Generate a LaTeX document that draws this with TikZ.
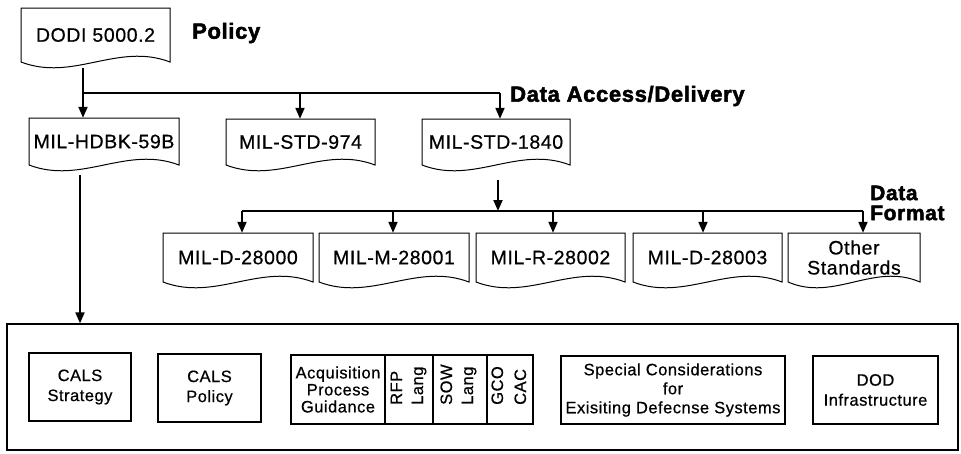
\documentclass[tikz,border=0pt]{standalone}
\usepackage{fontspec}
\setmainfont{Liberation Sans}[LetterSpace=3, FakeBold=0.6, BoldFeatures={FakeBold=2.2}]
\usetikzlibrary{arrows.meta,calc}
\newcommand\docnode[6]{%
  \node[doctext, minimum width={#4-#2}, minimum height={#5-#3}] (#1) at ({(#2+#4)/2},{(#3+#5)/2}) {#6};
  \draw[docline] (#2,#5) .. controls ({#2+0.35*(#4-#2)},{#5+20}) and ({#2+0.65*(#4-#2)},{#5-20}) .. (#4,#5) -- (#4,#3) -- (#2,#3) -- cycle;
}
\begin{document}
\begin{tikzpicture}[x=1pt,y=-1pt,
  docline/.style={line width=1pt},
  doctext/.style={inner sep=0pt, align=center, font=\fontsize{19.5}{20}\selectfont},
  conn/.style={line width=1.9pt},
  arr/.style={-{Triangle[length=11pt,width=9pt]}},
  ibox/.style={draw, line width=1.6pt, inner sep=0pt, align=center, font=\fontsize{16.5}{20}\selectfont},
  lab/.style={font=\fontsize{22}{20}\selectfont\bfseries, anchor=west, inner sep=0pt, align=left},
  rot/.style={rotate=90, anchor=base west, inner sep=0pt, font=\fontsize{16.5}{16}\selectfont}]
\useasboundingbox (0,0) rectangle (961,453);

% document shapes
\docnode{dodi}{21}{8}{170}{62}{DODI 5000.2}
\docnode{hdbk}{29}{118}{179}{165}{MIL-HDBK-59B}
\docnode{std974}{226}{119}{375}{165}{MIL-STD-974}
\docnode{std1840}{422}{119}{570}{165}{MIL-STD-1840}
\docnode{d28000}{163}{233}{313}{282}{MIL-D-28000}
\docnode{m28001}{319}{233}{469}{282}{MIL-M-28001}
\docnode{r28002}{476}{233}{625}{282}{MIL-R-28002}
\docnode{d28003}{633}{233}{782}{282}{MIL-D-28003}
\docnode{other}{788}{233}{920}{282}{Other\\Standards}

% labels
\node[lab] (policy) at (192,33) {Policy};
\node[lab] (access) at (510,96) {Data Access/Delivery};
\node[lab, font=\fontsize{21}{20}\selectfont\bfseries] (format) at (870,203) {Data\\Format};

% big box
\node[draw, line width=1.3pt, minimum width=951, minimum height=126, inner sep=0pt] (bigbox) at (482.5,387) {};

% inner boxes
\node[ibox, minimum width=102, minimum height=68] (strategy) at (80,387) {CALS\\Strategy};
\node[ibox, minimum width=103, minimum height=68] (calspolicy) at (209.5,388) {CALS\\Policy};
\node[ibox, minimum width=94, minimum height=69, font=\fontsize{16.5}{17}\selectfont] (acq) at (338,389.5) {Acquisition\\Process\\Guidance};
\node[ibox, minimum width=48, minimum height=69] (rfpcell) at (409,389.5) {};
\node[ibox, minimum width=54, minimum height=69] (sowcell) at (460,389.5) {};
\node[ibox, minimum width=46, minimum height=69] (gcocell) at (510,389.5) {};
\node[rot] (rfp) at (402,405) {RFP};
\node[rot] (rfplang) at (423,405) {Lang};
\node[rot] (sow) at (452,405) {SOW};
\node[rot] (sowlang) at (473,405) {Lang};
\node[rot] (gco) at (503,405) {GCO};
\node[rot] (cac) at (526,405) {CAC};
\node[ibox, minimum width=224, minimum height=68, font=\fontsize{16.5}{19}\selectfont] (special) at (673,390) {Special Considerations\\for\\Exisiting Defecnse Systems};
\node[ibox, minimum width=125, minimum height=68] (dod) at (875.5,390) {DOD\\Infrastructure};

% connectors, first level
\coordinate (s0) at (83,68);
\coordinate (b1) at (83,93);
\coordinate (b2) at (300,93);
\coordinate (b3) at (500,93);
\draw[conn] (s0) -- (b1) -- (b3);
\draw[conn,arr] (b1) -- (b1 |- hdbk.north);
\draw[conn,arr] (b2) -- (b2 |- std974.north);
\draw[conn,arr] (b3) -- (b3 |- std1840.north);

% hdbk to big box
\coordinate (s1) at (80,175);
\draw[conn,arr] (s1) -- (s1 |- bigbox.north);

% second level
\coordinate (s2) at (498,180);
\coordinate (c2) at (498,211);
\draw[conn,arr] (s2) -- (c2);
\coordinate (p1) at (242,211);
\coordinate (p2) at (393,211);
\coordinate (p3) at (553,211);
\coordinate (p4) at (703,211);
\coordinate (p5) at (863,211);
\draw[conn] (p1) -- (p5);
\draw[conn,arr] (p1) -- (p1 |- d28000.north);
\draw[conn,arr] (p2) -- (p2 |- m28001.north);
\draw[conn,arr] (p3) -- (p3 |- r28002.north);
\draw[conn,arr] (p4) -- (p4 |- d28003.north);
\draw[conn,arr] (p5) -- (p5 |- other.north);
\end{tikzpicture}
\end{document}
